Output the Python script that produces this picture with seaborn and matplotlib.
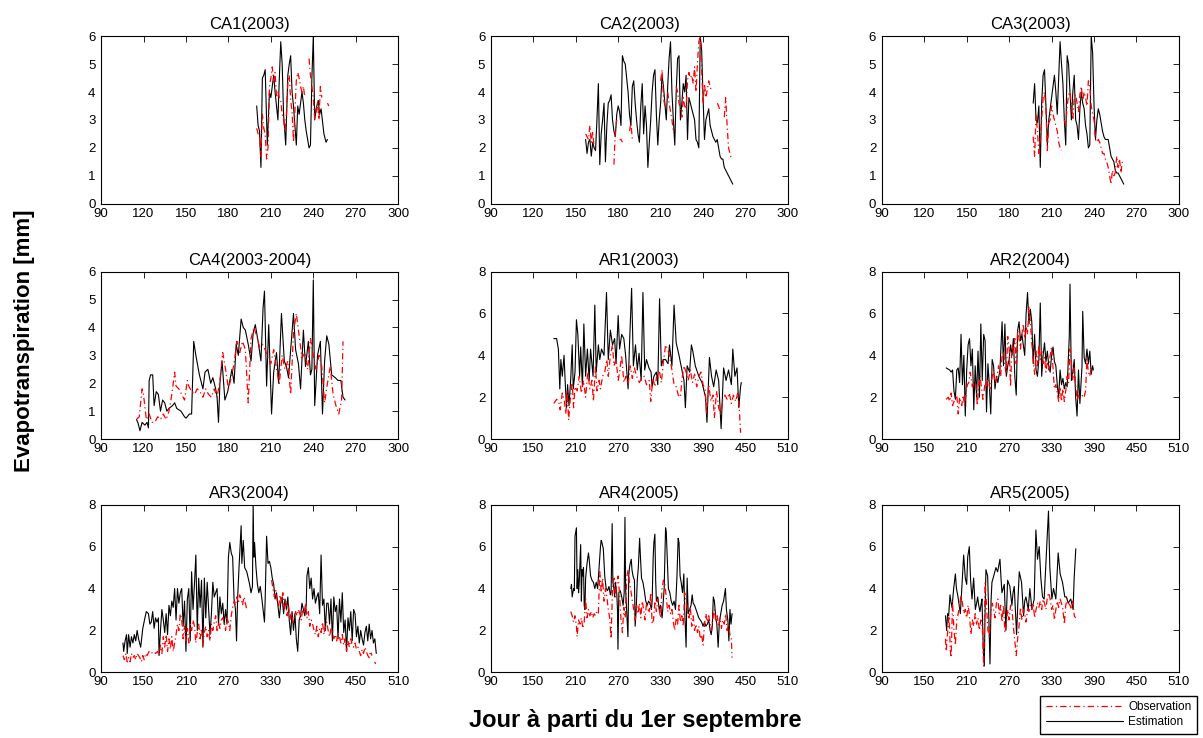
import numpy as np
import pandas as pd
import seaborn as sns
import matplotlib.pyplot as plt
from matplotlib.lines import Line2D

nan = np.nan

# ---- CA1 (2003) ----
ca1_est_days = [200, 201, 202, 203, 204, 205, 206, 207.5, 209, 210,
                212, 213, 215, 216, 217, 218, 219, 220.5, 222, 223,
                224, 225, 226, 228, 229, 230, 232, 233, 234, 235,
                237, 238, 239, 240, 241, 242, 243.5, 244.5, 245.5, 247.5,
                249, 250]
ca1_est_vals = [3.5, 2.8, 2.6, 1.3, 4.5, 4.6, 4.8, 2.1, 4.0, 3.8,
                4.6, 4.0, 3.0, 4.5, 5.8, 5.0, 3.2, 2.1, 4.6, 5.0,
                5.3, 4.0, 3.5, 2.1, 3.5, 3.2, 4.0, 3.6, 3.0, 2.6,
                2.0, 2.1, 4.5, 6.0, 3.0, 3.4, 3.7, 3.2, 3.4, 2.5,
                2.2, 2.3]
ca1_obs_days = [200, 201, 202, 203, 204, 205, 206, 207, 208, 209,
                210, 211, 212, 213, 214, 215, 216, 217, 218, 219,
                220, 221, 222, 223, 224, 225, 226, 227, 228, 229,
                230, 231, 232, 233, 234, 235, 237, 238, 239, 240,
                241, 242, 243, 244, 245, 246, 247, 250, 251]
ca1_obs_vals = [2.7, 2.5, 2.4, 1.7, 3.2, 2.7, 2.5, 1.6, 2.0, 4.2,
                4.5, 4.9, 4.4, 4.7, 3.8, 4.0, 3.8, 3.7, 3.2, 3.0,
                2.6, 3.2, 4.3, 4.6, 3.7, 3.3, 2.2, 3.3, 4.4, 4.7,
                4.5, 4.2, 4.0, 4.2, 3.8, nan, 5.2, 4.6, 4.2, 3.8,
                3.0, 3.3, 3.6, 3.0, 4.2, 3.8, nan, 3.6, 3.5]

# ---- CA2 (2003) ----
ca2_est_days = list(range(157, 262))
ca2_est_vals = [2.3, 1.8, 2.2, 2.3, 1.7, 2.2, 2.0, 1.9, 3.0, 4.3,
                1.4, 2.5, 3.0, 3.6, 1.5, 2.8, 3.6, 3.7, 3.9, 3.0,
                2.6, 2.4, 3.2, 3.5, 3.3, 2.8, 5.3, 5.1, 5.0, 4.5,
                4.0, 3.2, 2.8, 4.2, 4.4, 3.6, 3.0, 2.5, 2.2, 3.5,
                4.3, 2.5, 3.5, 2.8, 1.3, 2.2, 3.0, 4.0, 4.6, 4.8,
                3.2, 2.1, 3.0, 3.6, 4.6, 4.2, 3.6, 3.0, 4.2, 5.2,
                5.8, 4.0, 3.0, 2.1, 4.0, 5.2, 5.3, 3.0, 3.6, 4.3,
                4.0, 4.6, 2.3, 3.8, 3.6, 3.4, 3.2, 3.0, 2.3, 2.2,
                2.0, 6.0, 5.5, 3.8, 2.3, 3.0, 3.2, 3.4, 2.8, 2.6,
                2.4, 2.3, 2.2, 2.3, 2.0, 1.7, 1.6, 1.6, 1.3, 1.2,
                1.1, 1.0, 0.9, 0.8, 0.7]
ca2_obs_days = list(range(157, 261))
ca2_obs_vals = [2.5, 2.4, 2.3, 2.8, 2.2, 2.6, 2.0, nan, nan, nan,
                nan, nan, nan, nan, nan, nan, nan, nan, nan, nan,
                1.4, 2.6, 3.0, nan, 2.3, 2.3, 2.2, nan, nan, nan,
                nan, 2.6, 2.9, 2.3, nan, nan, nan, nan, nan, nan,
                nan, nan, nan, nan, nan, nan, nan, nan, nan, nan,
                nan, nan, nan, 4.4, 4.8, 3.8, 3.5, nan, 4.0, 3.6,
                3.3, 3.0, 2.6, nan, 4.2, 4.0, 3.6, 3.4, 3.1, 3.8,
                3.5, 3.4, 4.4, 4.7, 4.5, 4.6, 4.3, 4.9, 4.0, 5.0,
                5.8, 6.0, 4.8, 3.6, 4.3, 3.8, 4.1, 4.4, 4.2, 4.0,
                nan, nan, nan, 3.6, 3.5, 3.3, nan, nan, 3.1, 3.8,
                2.8, 2.0, 1.8, 1.6]

# ---- CA3 (2003) ----
ca3_est_days = list(range(197, 262))
ca3_est_vals = [3.6, 4.3, 3.0, 2.9, 3.5, 1.3, 3.6, 4.6, 4.8, 3.5,
                2.1, 3.0, 3.4, 3.8, 4.2, 4.6, 4.0, 3.2, 4.5, 5.8,
                5.0, 4.3, 3.0, 2.1, 5.3, 5.0, 4.0, 3.0, 4.0, 4.6,
                3.0, 2.8, 2.3, 3.4, 4.0, 3.6, 3.4, 2.8, 2.5, 2.0,
                2.1, 6.0, 5.4, 3.5, 2.3, 3.0, 3.4, 3.2, 2.9, 2.6,
                2.4, 2.3, 2.3, 2.3, 2.0, 1.7, 1.6, 1.5, 1.2, 1.1,
                1.1, 1.0, 0.9, 0.8, 0.7]
ca3_obs_days = list(range(197, 261))
ca3_obs_vals = [2.4, 1.7, 3.2, 2.6, 1.8, 2.3, 3.0, 3.8, 4.0, 3.4,
                1.9, 2.9, 3.0, 3.5, 3.2, 3.0, 2.8, 2.6, 2.2, 2.0,
                1.9, nan, 3.0, 2.8, 3.5, 3.9, 4.0, 3.5, 3.0, 3.8,
                3.9, 3.6, 3.3, 3.9, 4.2, 3.7, 4.0, 3.8, 3.5, 4.4,
                4.2, 3.5, 3.2, 3.0, 2.3, 2.2, 2.3, 2.2, 2.0, 1.8,
                1.8, 1.6, 1.5, 1.3, 1.0, 0.7, 1.2, 1.0, 1.1, 1.7,
                1.3, 1.6, 1.1, 1.5]

# ---- CA4 (2003-2004) ----
ca4_est_days = [115, 116, 117.5, 119, 121, 122.5, 123.5, 124, 125, 126.5,
                127.5, 129, 130.5, 132, 133.5, 135, 136.5, 138, 140.5, 142,
                143.5, 146.5, 149, 150, 152.5, 154, 155.5, 157, 159.5, 162,
                163.5, 165.5, 167.5, 169, 171, 172, 173, 174, 175.5, 177.5,
                179.5, 181, 182.5, 184, 185.5, 187, 189, 190.5, 192, 194,
                196, 197.5, 199, 201, 203, 204.5, 205.5, 207, 208.5, 210.5,
                212, 214, 215.5, 217.5, 219.5, 221, 222.5, 224, 226, 227.5,
                229.5, 231, 233, 234.5, 236.5, 238, 239, 240, 241, 243,
                245, 246.5, 248, 249.5, 251, 253, 255.5, 257.5, 259.5, 261,
                262.5]
ca4_est_vals = [0.7, 0.6, 0.3, 0.6, 0.5, 0.6, 0.4, 2.1, 2.3, 2.3,
                1.2, 1.7, 1.6, 1.0, 1.4, 1.3, 1.0, 1.1, 1.2, 1.3,
                1.1, 1.0, 0.8, 0.75, 0.9, 0.9, 3.5, 3.0, 2.3, 1.8,
                2.4, 2.5, 2.0, 2.2, 1.8, 1.5, 0.6, 2.0, 2.8, 1.4,
                1.7, 2.1, 2.5, 2.0, 3.4, 3.0, 4.3, 4.0, 3.9, 3.4,
                2.8, 3.8, 4.1, 3.5, 2.8, 4.7, 5.3, 1.9, 4.1, 0.9,
                2.4, 3.1, 2.0, 4.5, 2.8, 2.6, 2.2, 3.2, 4.5, 3.2,
                2.7, 1.8, 3.9, 2.6, 3.5, 2.3, 2.5, 5.7, 1.2, 3.0,
                3.5, 0.9, 2.8, 3.7, 3.4, 2.3, 2.2, 2.1, 2.1, 1.5,
                1.4]
ca4_obs_days = [115, 117, 119, 120, 122, 124, 126, 128, 130, 132,
                134, 136, 138, 140, 142, 143, 145, 147, 149, 151,
                152, 154, 156, 158, 160, 162, 164, 166, 168, 170,
                172, 174, 176, 178, 180, 182, 184, 186, 188, 190,
                192, 194, 196, 198, 200, 202, 204, 206, 208, 210,
                212, 214, 216, 218, 220, 222, 224, 226, 228, 230,
                232, 234, 236, 238, 240, 242, 244, 246, 248, 250,
                252, 254, 256, 258, 260, 261]
ca4_obs_vals = [0.7, 0.8, 1.8, 1.6, 0.7, 0.9, 0.6, 0.6, 0.8, 0.7,
                0.9, 0.7, 1.0, 1.6, 2.4, 1.9, 1.8, 1.6, 1.4, 2.1,
                1.9, 1.7, 1.6, 1.8, 1.7, 1.5, 1.8, 1.6, 1.5, 1.8,
                1.5, 2.1, 3.1, 2.5, 1.8, 2.2, 2.7, 3.5, 3.1, 3.5,
                3.2, 1.3, 3.6, 4.0, 3.7, 3.3, 3.4, 3.2, 2.9, 2.7,
                3.2, 2.5, 2.0, 3.0, 2.5, 2.8, 1.6, 3.8, 4.5, 3.7,
                2.9, 3.1, 2.5, 3.6, 3.0, 2.5, 3.0, 2.6, 1.3, 2.0,
                2.6, 1.6, 1.2, 0.9, 1.4, 3.5]

# ---- AR1 (2003) ----
ar1_est_days = [179, 183, 185.5, 187.5, 189, 191, 193.5, 195, 197, 198.5,
                200.5, 203, 205, 206.5, 209, 211, 213, 215.5, 217, 219.5,
                221.5, 224, 226.5, 229, 231, 234.5, 237, 239, 242, 244,
                246.5, 250, 253.5, 256, 259, 262, 265, 267, 270, 272,
                275, 278, 280.5, 284, 286, 289, 291.5, 294.5, 297, 299.5,
                302.5, 305, 307.5, 310, 313.5, 316.5, 318, 320.5, 324, 326,
                328.5, 331, 333.5, 337, 340.5, 342.5, 346, 349, 352, 356,
                359.5, 363, 365, 367.5, 371, 373.5, 375.5, 379, 384, 388.5,
                393.5, 395.5, 399, 402, 405, 408.5, 412, 415.5, 419, 422.5,
                426, 430, 432, 435, 438, 440.5, 443, 444]
ar1_est_vals = [4.8, 4.8, 4.3, 2.4, 3.8, 3.0, 4.0, 2.8, 1.5, 2.6,
                1.6, 2.9, 4.5, 2.4, 3.2, 5.7, 5.0, 3.0, 4.4, 2.5,
                5.5, 3.0, 4.3, 2.8, 4.3, 3.0, 6.4, 3.2, 4.5, 3.8,
                4.3, 4.0, 7.0, 3.8, 5.2, 4.5, 4.8, 3.6, 5.9, 4.3,
                5.0, 4.8, 4.0, 2.4, 4.5, 7.2, 3.5, 4.5, 3.3, 4.1,
                2.8, 7.0, 3.3, 3.8, 3.4, 3.2, 2.5, 3.0, 3.2, 2.6,
                6.7, 3.5, 3.8, 3.8, 3.6, 4.5, 3.5, 6.4, 4.6, 4.0,
                3.4, 2.8, 1.5, 3.5, 3.2, 4.5, 4.2, 3.5, 3.0, 2.7,
                2.0, 0.8, 3.9, 3.0, 2.5, 3.3, 2.8, 0.5, 3.4, 2.8,
                3.3, 2.6, 4.3, 3.0, 3.4, 1.5, 2.5, 2.7]
ar1_obs_days = [179, 183, 186, 188, 191, 194, 196, 198, 200, 202,
                205, 207, 209, 212, 215, 218, 221, 224, 227, 230,
                233, 235, 238, 240, 243, 245, 248, 251, 254, 256,
                259, 262, 264, 267, 270, 272, 275, 278, 281, 284,
                287, 290, 293, 296, 300, 303, 307, 310, 314, 316,
                319, 322, 325, 328, 331, 334, 337, 340, 343, 346,
                349, 352, 355, 358, 360, 363, 366, 369, 372, 375,
                378, 381, 384, 387, 390, 393, 395, 398, 401, 404,
                406, 409, 412, 415, 418, 421, 424, 427, 430, 433,
                436, 439, 441, 443]
ar1_obs_vals = [1.7, 1.9, 1.8, 1.4, 2.2, 1.8, 1.2, 2.3, 0.9, 1.8,
                2.7, 1.5, 2.5, 2.3, 3.0, 2.2, 2.8, 2.0, 3.2, 2.4,
                2.8, 1.8, 3.5, 2.3, 2.8, 2.4, 3.0, 3.2, 3.8, 3.0,
                4.0, 4.5, 3.5, 3.8, 2.8, 3.2, 4.0, 2.7, 3.0, 2.6,
                3.5, 2.9, 3.4, 3.0, 2.7, 2.9, 3.0, 2.6, 2.8, 1.8,
                2.9, 2.5, 3.1, 3.3, 2.7, 3.7, 4.5, 4.3, 3.9, 3.3,
                2.6, 2.5, 2.1, 2.0, 2.8, 3.5, 3.2, 2.8, 3.3, 2.7,
                3.1, 2.5, 3.0, 3.2, 2.6, 2.4, 1.2, 2.6, 1.8, 2.1,
                1.0, 2.3, 1.5, 1.2, 1.9, 2.1, 1.9, 2.2, 1.7, 2.1,
                1.8, 2.2, 1.6, 0.3]

# ---- AR2 (2004) ----
ar2_est_days = [181, 186, 188, 190, 192, 194, 196, 198, 200, 202,
                204, 206, 208, 210, 212, 214, 216, 218, 220, 222,
                224, 226, 228, 230, 232, 234, 236, 238, 240, 242,
                244, 246, 248, 250, 252, 254, 257, 260, 262, 264,
                266, 268, 270, 272, 274, 276, 278, 280, 282, 284,
                286, 288, 290, 292, 294, 296, 298, 300, 302, 304,
                306, 308, 310, 312, 314, 316, 318, 320, 322, 324,
                326, 328, 330, 332, 334, 336, 338, 340, 342, 344,
                346, 348, 350, 352, 355, 356, 358, 360, 362, 364,
                366, 368, 370, 373, 374, 376, 378, 380, 382, 384,
                386, 388, 389]
ar2_est_vals = [3.4, 3.3, 3.2, 3.3, 2.3, 1.9, 3.3, 3.4, 2.7, 5.0,
                2.6, 4.0, 1.1, 3.3, 4.5, 4.8, 3.5, 4.3, 1.4, 3.5,
                2.0, 4.2, 2.0, 5.5, 2.8, 5.0, 4.7, 1.3, 3.6, 2.6,
                1.2, 3.8, 3.5, 2.4, 3.0, 2.7, 3.3, 5.6, 3.5, 5.5,
                3.0, 3.5, 3.8, 4.5, 4.0, 4.8, 3.0, 2.1, 5.2, 5.6,
                4.7, 5.0, 4.5, 4.0, 6.0, 7.0, 5.5, 6.2, 5.6, 3.6,
                5.0, 3.3, 3.0, 3.8, 6.5, 3.0, 4.0, 4.6, 3.7, 4.2,
                3.5, 3.2, 4.0, 4.4, 3.7, 3.5, 2.6, 2.0, 3.3, 2.6,
                2.9, 2.4, 2.7, 2.5, 4.9, 7.4, 2.8, 3.2, 3.8, 2.0,
                1.1, 3.3, 1.7, 3.5, 6.1, 3.9, 3.6, 4.3, 3.6, 4.2,
                3.1, 3.5, 3.3]
ar2_obs_days = [181, 184, 186, 188, 190, 192, 194, 196, 198, 200,
                203, 205, 207, 209, 211, 213, 215, 218, 220, 223,
                225, 227, 229, 231, 233, 236, 238, 240, 243, 245,
                248, 250, 253, 255, 258, 260, 262, 264, 266, 268,
                270, 272, 274, 276, 278, 280, 282, 284, 286, 288,
                290, 292, 294, 296, 298, 300, 302, 304, 306, 308,
                310, 312, 314, 316, 318, 320, 322, 324, 326, 328,
                330, 332, 334, 336, 338, 340, 342, 344, 346, 348,
                350, 352, 354, 356, 358, 360, 362, 364, 366, 368,
                370, 372, 374, 376, 378, 380, 382, 384, 386, 388]
ar2_obs_vals = [1.9, 2.0, 1.8, 2.2, 1.6, 1.8, 1.9, 2.1, 1.2, 2.0,
                1.6, 2.1, 1.6, 2.2, 2.6, 2.7, 3.2, 2.5, 2.8, 2.6,
                1.6, 2.5, 3.0, 2.4, 1.9, 2.7, 2.5, 2.9, 2.4, 2.8,
                3.3, 2.6, 3.0, 3.5, 3.0, 4.0, 4.2, 3.5, 3.1, 4.9,
                4.3, 2.5, 4.5, 4.2, 4.8, 3.6, 5.2, 4.8, 4.3, 5.0,
                5.5, 4.8, 5.4, 5.0, 6.3, 5.6, 4.6, 3.8, 3.1, 4.2,
                3.5, 4.5, 3.8, 4.2, 3.6, 3.9, 3.2, 3.7, 3.3, 4.0,
                4.4, 3.4, 2.4, 2.6, 2.2, 1.8, 2.5, 1.8, 2.4, 1.8,
                2.3, 3.0, 2.7, 4.3, 3.7, 2.8, 3.4, 2.6, 1.8, 2.1,
                2.0, 2.0, 2.1, 2.0, 2.3, 3.8, 3.2, 3.0, 3.4, 3.2]

# ---- AR3 (2004) ----
ar3_est_days = [121, 122, 124, 126, 127, 129, 131, 133, 135, 137,
                139, 141, 143, 146, 149, 152, 154, 157, 159, 161,
                163, 165, 167, 169, 171, 172, 174, 176, 178, 180,
                182, 184, 186, 188, 190, 192, 194, 196, 198, 200,
                202, 204, 206, 208, 210, 212, 214, 216, 218, 220,
                222, 224, 226, 228, 230, 232, 234, 236, 238, 240,
                242, 244, 246, 248, 250, 252, 254, 256, 258, 260,
                262, 264, 266, 268,
                270, 272, 274, 276, 278, 280, 281.5, 283, 285, 288,
                289, 291, 293, 296, 298, 300, 302, 304, 305, 306,
                307, 309, 311, 313, 315, 317, 319, 321, 322, 324,
                326, 328, 330, 332, 334, 336, 338, 340, 342, 344,
                346, 348, 350, 352, 354, 356, 358, 360, 362, 364,
                366, 368, 370, 372, 374, 376, 378, 380, 381, 383,
                385, 387, 389, 391, 393, 395, 397, 399, 401, 403,
                405, 407, 409,
                411, 413, 415, 417, 419, 421, 423, 425, 427, 429,
                431, 433, 435, 437, 439, 441, 443, 445, 447, 449,
                451, 453, 455, 457, 459, 461, 463, 465, 467, 469,
                471, 473, 475, 477, 479]
ar3_est_vals = [1.4, 1.0, 1.5, 1.8, 0.9, 1.8, 1.2, 1.7, 1.4, 1.8,
                1.5, 2.0, 1.6, 1.2, 2.1, 2.6, 2.9, 2.8, 2.3, 2.4,
                2.9, 2.1, 2.6, 2.4, 2.6, 0.8, 2.0, 3.0, 2.5, 1.9,
                2.8, 1.8, 3.2, 2.7, 3.4, 3.1, 4.0, 2.5, 4.0, 3.3,
                3.8, 4.0, 2.2, 3.4, 1.0, 3.5, 4.0, 1.5, 4.8, 3.0,
                4.2, 5.6, 2.0, 4.5, 3.1, 4.4, 1.2, 4.5, 2.6, 4.3,
                3.0, 1.8, 2.8, 4.3, 3.6, 3.8, 4.0, 2.3, 3.6, 2.8,
                3.3, 2.3, 3.0, 2.3,
                5.5, 6.2, 5.7, 5.5, 3.5, 3.0, 1.5, 3.5, 5.0, 7.0,
                5.2, 6.3, 5.0, 4.8, 4.5, 4.2, 3.8, 4.1, 8.0, 5.5,
                6.2, 5.0, 4.2, 3.8, 4.1, 3.6, 3.0, 2.4, 3.5, 6.5,
                5.2, 5.3, 5.0, 4.5, 4.2, 3.5, 3.8, 3.2, 2.6, 3.3,
                3.6, 2.8, 3.5, 3.0, 3.6, 2.5, 1.8, 2.9, 2.0, 2.8,
                1.6, 1.0, 2.5, 2.7, 3.3, 3.0, 2.7, 3.2, 4.6, 5.0,
                4.0, 4.5, 3.5, 4.0, 3.3, 3.6, 3.8, 2.8, 5.6, 3.2,
                3.5, 2.0, 3.3,
                3.3, 2.3, 3.5, 1.5, 3.6, 2.9, 3.2, 1.6, 3.5, 2.4,
                3.8, 1.9, 2.5, 1.0, 2.6, 2.0, 2.9, 1.5, 3.0, 2.8,
                1.7, 2.2, 1.4, 2.0, 1.6, 1.3, 1.9, 2.2, 1.5, 2.3,
                1.6, 2.0, 1.4, 1.6, 0.9]
ar3_obs_days = [121, 123, 125, 127, 129, 131, 133, 135, 137, 139,
                141, 143, 145, 147, 149, 151, 153, 155, 158, 161,
                164, 167, 170, 172, 174, 176, 178, 180, 182, 184,
                186, 188, 190, 192, 194, 196, 198, 200, 202, 204,
                206, 208, 210, 212, 214, 216, 218, 220, 222, 224,
                226, 228, 230, 232, 234, 236, 238, 240, 242, 244,
                246, 248, 250, 252, 254, 256, 258, 260, 262, 264,
                266, 268, 270, 272, 274, 276, 278, 280, 282, 284,
                286, 288, 290, 292, 294, 296, 300,
                331, 333, 335, 337, 339, 341, 343, 345, 347, 349,
                351, 353, 355, 357, 359, 361, 363, 365, 367, 369,
                371, 373, 375, 377, 379, 381, 383, 385, 387, 389,
                391, 393, 395, 397, 399, 401, 403, 405, 407, 409,
                411, 413, 415, 417, 419, 421, 423, 425, 427, 429,
                431, 433, 435, 437, 439, 441, 443, 445, 447, 449,
                451, 453, 455, 457, 459, 461, 463, 465, 467, 469,
                471, 473, 475, 477, 478]
ar3_obs_vals = [0.8, 0.6, 0.9, 0.5, 0.7, 0.5, 0.9, 0.7, 0.8, 0.6,
                0.9, 0.8, 0.7, 0.5, 0.8, 0.6, 0.9, 0.8, 1.0, 0.9,
                1.0, 0.9, 1.0, 0.8, 1.3, 0.9, 1.7, 1.2, 1.8, 1.0,
                1.6, 1.1, 1.7, 1.0, 1.4, 1.8, 2.3, 2.0, 2.8, 2.5,
                1.6, 2.2, 1.5, 2.1, 1.4, 2.3, 2.0, 2.5, 2.2, 1.4,
                1.9, 2.3, 1.6, 2.1, 1.3, 1.9, 2.2, 1.7, 2.0, 1.5,
                2.3, 2.0, 2.4, 2.7, 2.0, 2.4, 2.1, 2.5, 2.6, 2.4,
                2.0, 2.6, 2.4, 2.0, 2.7, 3.1, 3.4, 3.2, 3.6, 3.3,
                3.7, 3.5, 3.2, 3.6, 3.3, 3.0, nan,
                4.4, 4.0, 3.6, 3.9, 3.4, 3.1, 3.7, 3.3, 3.8, 3.0,
                3.4, 2.7, 3.2, 2.5, 2.9, 2.4, 2.6, 2.9, 2.7, 3.0,
                2.8, 2.5, 3.0, 2.8, 3.3, 2.6, 2.9, 2.2, 2.5, 2.3,
                2.0, 1.8, 2.2, 1.7, 2.1, 1.9, 2.4, 1.8, 2.2, 2.4,
                2.0, 1.7, 2.1, 1.9, 1.6, 1.8, 1.5, 1.9, 1.7, 1.4,
                1.8, 1.3, 1.6, 1.0, 1.5, 1.2, 1.6, 1.3, 1.2, 1.4,
                1.1, 1.2, 1.0, 0.8, 1.1, 0.9, 1.2, 1.0, 0.8, 0.7,
                1.0, 0.8, nan, 0.5, 0.4]

# ---- AR4 (2005) ----
ar4_est_days = [203, 204, 205, 206, 207, 208, 209, 210, 211, 212,
                213, 214, 215, 216, 217, 218, 219, 220, 221, 222,
                223, 224, 226, 228, 229, 231, 233, 235, 237, 239,
                241, 243, 245, 246, 247, 249, 251, 253, 255, 257,
                259, 260, 261.5, 262.5, 264, 265, 266, 268, 269, 269.7,
                271, 273, 275, 277, 278.5, 279.6, 280.5, 282, 283.8, 285,
                286, 287, 288.5, 289.5, 291, 293, 294, 295.5, 297, 298.5,
                300.3, 301.5, 303, 305, 307, 309, 311, 313, 315, 317,
                318, 319.5, 320.5, 321.9, 323, 324, 326, 328, 330, 332,
                333, 335, 337, 338, 339.5, 341, 343, 345, 347, 349,
                351, 353, 354.8, 356, 357.5, 359, 361, 362.8, 364, 366,
                367.5, 369, 371, 373, 374.6, 376, 378, 380, 382, 384,
                386, 388, 390, 392, 394, 396, 398, 400, 401.5, 403,
                404.5, 406, 408, 409.5, 411.3, 413, 415, 417, 419, 421.6,
                423, 425, 426.5, 428, 429.5, 431]
ar4_est_vals = [4.0, 4.2, 3.6, 3.8, 4.0, 3.9, 6.5, 6.7, 6.9, 4.0,
                4.9, 3.8, 4.3, 5.2, 6.1, 3.4, 4.9, 4.6, 5.0, 3.2,
                3.0, 4.5, 5.2, 5.7, 5.4, 4.6, 4.4, 4.3, 4.0, 4.3,
                4.0, 5.0, 6.0, 6.3, 6.2, 5.9, 4.6, 4.0, 3.9, 4.1,
                3.7, 3.8, 7.1, 4.3, 4.0, 3.6, 4.3, 3.8, 3.0, 1.1,
                3.8, 3.9, 3.6, 3.2, 3.8, 7.4, 4.0, 3.0, 1.7, 4.6,
                5.0, 5.2, 5.4, 4.9, 4.6, 4.4, 2.2, 3.0, 4.4, 5.0,
                6.4, 5.5, 4.5, 4.3, 3.9, 3.4, 3.2, 3.4, 3.3, 3.0,
                3.4, 5.5, 6.2, 6.6, 4.4, 3.4, 3.6, 3.0, 3.2, 2.6,
                3.0, 4.0, 6.9, 6.7, 5.3, 4.0, 3.8, 3.4, 3.2, 3.4,
                3.0, 4.5, 6.4, 6.2, 4.6, 4.3, 3.8, 4.7, 3.0, 1.2,
                4.5, 2.8, 3.0, 3.2, 3.7, 3.3, 3.2, 3.0, 2.8, 2.6,
                2.5, 2.4, 2.2, 2.4, 2.2, 2.3, 2.5, 2.0, 1.8, 2.2,
                3.6, 3.4, 2.6, 2.3, 1.2, 2.4, 2.8, 3.2, 3.4, 4.0,
                3.0, 2.5, 1.5, 3.0, 2.3, 2.8]
ar4_obs_days = [203, 205, 207, 209, 211, 212, 214, 216, 218, 220,
                222, 224, 226, 228, 230, 232, 234, 236, 238, 240,
                242, 244, 246, 248, 250, 252, 254, 256, 258, 260,
                262, 264, 266, 268, 270, 272, 274, 276, 278, 280,
                282, 284, 286, 288, 290, 292, 294, 296, 298, 300,
                302, 304, 306, 308, 310, 312, 314, 316, 318, 320,
                322, 324, 326, 328, 330, 332, 334, 336, 338, 340,
                342, 344, 346, 348, 350, 352, 354, 356, 358, 360,
                362, 364, 366, 368, 370, 372, 374, 376, 378, 380,
                382, 384, 386, 388, 390, 392, 394, 396, 398, 400,
                402, 404, 406, 408, 410, 412, 414, 416, 418, 420,
                422, 424, 426, 428, 430, 431]
ar4_obs_vals = [2.9, 2.7, 2.4, 2.7, 2.2, 1.7, 2.5, 2.3, 2.6, 2.1,
                2.4, 3.5, 2.6, 3.0, 2.7, 2.9, 2.6, 2.8, 2.7, 2.9,
                2.8, 4.8, 3.8, 4.5, 3.4, 4.0, 3.6, 3.0, 2.6, 1.6,
                4.0, 4.5, 3.6, 4.2, 4.6, 3.7, 2.5, 1.9, 3.1, 2.6,
                4.5, 4.9, 4.3, 3.9, 3.4, 3.0, 2.5, 3.2, 2.8, 3.3,
                2.6, 3.4, 3.0, 2.5, 3.3, 3.0, 2.9, 3.8, 2.3, 2.5,
                3.4, 2.9, 3.5, 3.0, 2.6, 4.0, 4.4, 4.2, 3.6, 2.9,
                3.2, 2.8, 3.0, 2.4, 2.0, 2.6, 2.3, 3.2, 2.4, 2.7,
                2.2, 3.8, 3.4, 2.9, 2.6, 3.1, 2.2, 2.7, 2.0, 2.3,
                1.9, 2.2, 1.6, 1.8, 1.3, 2.3, 2.8, 2.4, 2.7, 2.3,
                2.0, 2.6, 3.0, 2.4, 2.7, 2.2, 2.6, 2.1, 2.5, 2.3,
                2.8, 2.0, 2.3, 1.8, 1.6, 0.7]

# ---- AR5 (2005) ----
ar5_est_days = [180, 181.7, 183, 184.5, 186.4, 188, 189.2, 191.6, 194, 195.5,
                197.2, 199, 201, 203.4, 205.7, 208, 210, 211.4, 213.7, 215.5,
                217.5, 219.8, 222.2, 224, 225.5, 227, 228.8, 230.5, 231.6, 233.5,
                234.9, 236, 237.2, 239.6, 241, 242.9, 244.5, 245.7, 249, 251.3,
                253.7, 257, 258.5, 259.8, 263.1, 265.4, 267.8, 271, 273.9, 275.5,
                277.2, 280.5, 282.5, 284.3, 287.5, 290.4, 292, 293.7, 297, 299.3,
                302.2, 305.4, 307.8, 310.1, 312.5, 314.8, 317.2, 319.5, 322.8, 325.6,
                327.5, 330.4, 332.7, 336, 339.3, 342.1, 345.4, 348.7, 351, 353.4,
                357.1, 360.4, 361.9, 364.2]
ar5_est_vals = [2.7, 2.0, 2.8, 2.7, 3.7, 3.3, 3.1, 4.0, 4.7, 4.0,
                3.7, 3.3, 2.8, 4.2, 5.6, 4.5, 4.2, 5.5, 6.0, 4.4,
                3.5, 4.5, 3.0, 3.3, 3.6, 3.2, 2.9, 3.3, 3.5, 1.0,
                0.3, 3.0, 4.9, 4.6, 3.0, 0.4, 3.5, 4.3, 4.7, 5.0,
                4.8, 5.4, 4.5, 3.8, 4.2, 2.0, 4.4, 4.1, 3.2, 3.8,
                4.1, 1.8, 3.5, 4.8, 4.3, 2.7, 3.4, 3.6, 3.0, 4.0,
                3.0, 3.5, 6.8, 5.4, 6.0, 4.5, 3.6, 3.5, 5.8, 7.7,
                5.0, 3.5, 4.0, 3.5, 5.7, 4.7, 4.3, 3.6, 3.6, 3.3,
                3.5, 3.0, 4.5, 5.9]
ar5_obs_days = [180, 181, 183, 185, 187, 188, 190, 192, 194, 196,
                198, 200, 202, 204, 206, 208, 210, 212, 214, 216,
                218, 220, 222, 224, 226, 228, 230, 232, 234, 236,
                238, 240, 242, 244, 246, 248, 250, 252, 254, 256,
                258, 260, 262, 264, 266, 268, 270, 272, 274, 276,
                278, 280, 282, 284, 286, 288, 290, 292, 294, 296,
                298, 300, 302, 304, 306, 308, 310, 312, 314, 316,
                318, 320, 322, 324, 326, 328, 330, 332, 334, 336,
                338, 340, 342, 344, 346, 348, 350, 352, 354, 356,
                358, 360, 362, 364]
ar5_obs_vals = [1.6, 1.0, 1.9, 2.7, 1.0, 0.7, 3.4, 2.0, 1.3, 2.5,
                2.8, 3.2, 3.7, 3.3, 2.8, 3.0, 2.6, 3.2, 2.7, 1.8,
                2.5, 2.2, 2.8, 2.3, 2.6, 2.0, 2.5, 2.2, 0.3, 4.3,
                3.2, 2.0, 1.7, 2.8, 3.3, 3.0, 2.6, 3.3, 3.5, 2.8,
                3.2, 2.4, 3.2, 1.9, 2.3, 3.0, 2.5, 3.2, 3.0, 2.2,
                1.5, 0.8, 1.6, 2.2, 3.1, 2.5, 3.0, 2.8, 2.4, 3.0,
                2.9, 3.2, 3.0, 3.3, 2.6, 3.0, 3.3, 3.1, 3.4, 3.0,
                3.5, 3.3, 3.0, 3.6, 3.8, 3.5, 3.0, 3.2, 2.5, 3.0,
                3.4, 3.1, 3.5, 3.3, 3.0, 2.3, 3.2, 3.5, 3.3, 3.2,
                3.0, 3.4, 2.7, 2.6]

titles = ['CA1(2003)', 'CA2(2003)', 'CA3(2003)',
          'CA4(2003-2004)', 'AR1(2003)', 'AR2(2004)',
          'AR3(2004)', 'AR4(2005)', 'AR5(2005)']
est_series = [(ca1_est_days, ca1_est_vals), (ca2_est_days, ca2_est_vals), (ca3_est_days, ca3_est_vals),
              (ca4_est_days, ca4_est_vals), (ar1_est_days, ar1_est_vals), (ar2_est_days, ar2_est_vals),
              (ar3_est_days, ar3_est_vals), (ar4_est_days, ar4_est_vals), (ar5_est_days, ar5_est_vals)]
obs_series = [(ca1_obs_days, ca1_obs_vals), (ca2_obs_days, ca2_obs_vals), (ca3_obs_days, ca3_obs_vals),
              (ca4_obs_days, ca4_obs_vals), (ar1_obs_days, ar1_obs_vals), (ar2_obs_days, ar2_obs_vals),
              (ar3_obs_days, ar3_obs_vals), (ar4_obs_days, ar4_obs_vals), (ar5_obs_days, ar5_obs_vals)]


def to_frame(days, vals):
    df = pd.DataFrame({'day': days, 'et': vals})
    # a missing value starts a new piece of line
    df['seg'] = df['et'].isna().cumsum()
    return df.dropna()


sns.set_style('white', {'axes.edgecolor': 'black'})
plt.rcParams['font.family'] = ['Liberation Sans', 'DejaVu Sans']
plt.rcParams['text.color'] = 'black'
plt.rcParams['axes.titlecolor'] = 'black'

fig = plt.figure(figsize=(12.03, 7.38), dpi=100)
lefts = [0.084, 0.408, 0.733]
bottoms = [0.724, 0.405, 0.089]
w, h = 0.247, 0.227
obs_ls = (0, (5, 2.5, 1, 2.5))

for i, title in enumerate(titles):
    r, c = divmod(i, 3)
    ax = fig.add_axes([lefts[c], bottoms[r], w, h])
    est = to_frame(*est_series[i])
    obs = to_frame(*obs_series[i])
    sns.lineplot(data=est, x='day', y='et', units='seg', estimator=None, sort=False,
                 color='black', lw=0.8, legend=False, ax=ax)
    sns.lineplot(data=obs, x='day', y='et', units='seg', estimator=None, sort=False,
                 color='red', lw=0.9, linestyle=obs_ls, legend=False, ax=ax)

    if r == 0 or i == 3:
        ax.set_xlim(90, 300)
        ax.set_xticks(range(90, 301, 30))
    else:
        ax.set_xlim(90, 510)
        ax.set_xticks(range(90, 511, 60))
    if i < 4:
        ax.set_ylim(0, 6)
        ax.set_yticks(range(0, 7))
    else:
        ax.set_ylim(0, 8)
        ax.set_yticks(range(0, 9, 2))

    ax.set_xlabel('')
    ax.set_ylabel('')
    ax.set_title(title, fontsize=12, pad=5, color='black')
    ax.tick_params(direction='in', top=True, right=True, length=4, width=0.6,
                   labelsize=9.5, colors='black')
    ax.tick_params(axis='x', pad=3)
    ax.tick_params(axis='y', pad=4)
    for s in ax.spines.values():
        s.set_linewidth(0.8)
        s.set_color('black')

fig.text(0.02, 0.538, 'Evapotranspiration [mm]', rotation=90, fontsize=16,
         fontweight='bold', family=['Liberation Sans Narrow', 'Liberation Sans'],
         color='black', ha='center', va='center')
fig.text(0.528, 0.024, 'Jour à parti du 1er septembre', fontsize=17,
         fontweight='bold', color='black', ha='center', va='center')

handles = [Line2D([], [], color='red', lw=0.9, linestyle=obs_ls),
           Line2D([], [], color='black', lw=0.8)]
fig.legend(handles, ['Observation', 'Estimation'], loc='lower right',
           bbox_to_anchor=(0.995, 0.006), fontsize=8.5, frameon=True, fancybox=False,
           edgecolor='black', framealpha=1, handlelength=6.5, borderpad=0.45,
           labelspacing=0.25, handletextpad=0.5, borderaxespad=0)

fig.savefig('out.png', dpi=100)
